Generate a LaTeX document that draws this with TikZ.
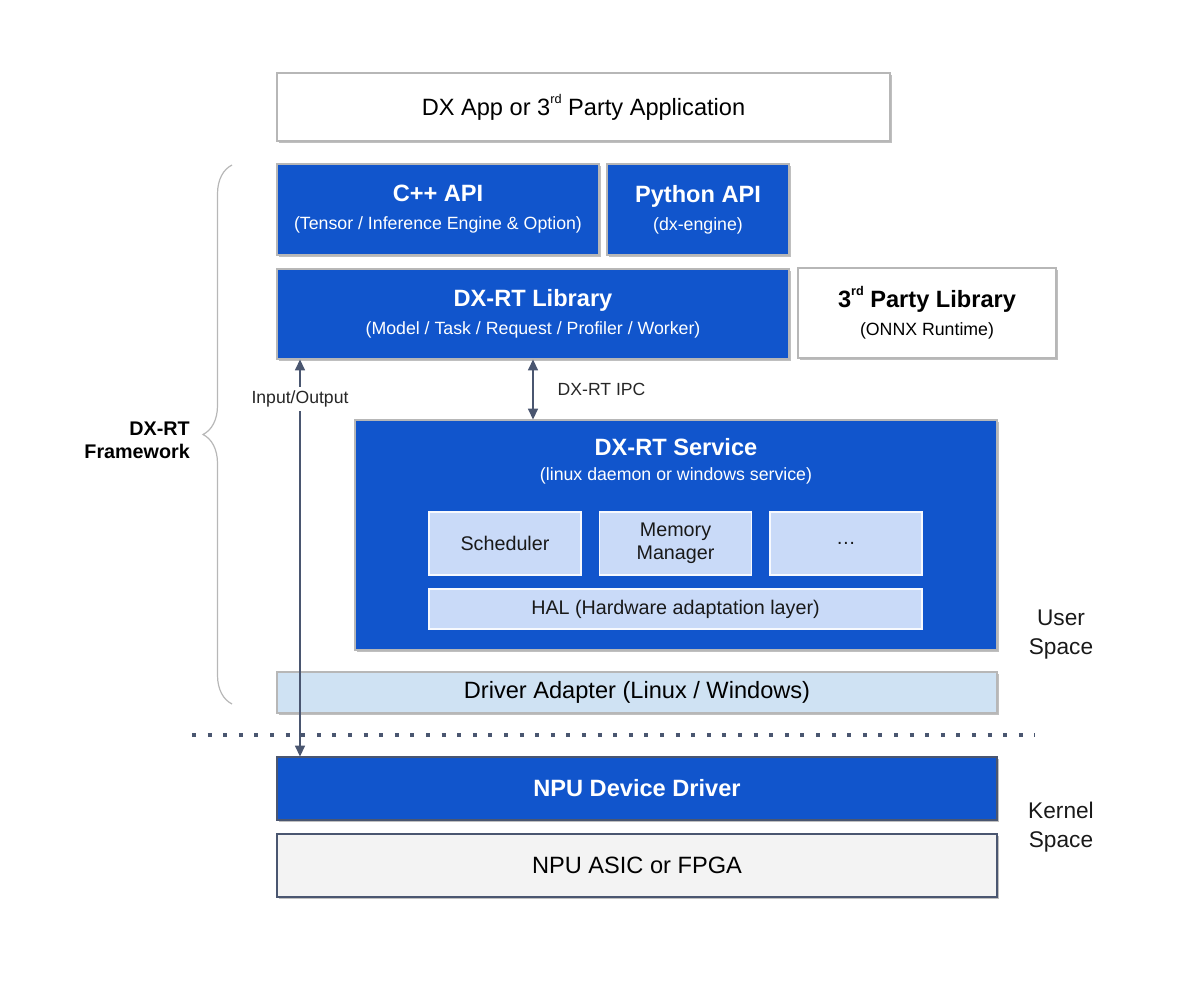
\documentclass[tikz,border=0pt]{standalone}
\usepackage{fontspec}
\setmainfont{Liberation Sans}
\usetikzlibrary{arrows.meta,shadows,decorations.pathreplacing}
\definecolor{dxblue}{HTML}{1155CC}
\definecolor{dxlight}{HTML}{C9DAF8}
\definecolor{dxpale}{HTML}{CFE2F3}
\definecolor{dxgray}{HTML}{F3F3F3}
\definecolor{dxslate}{HTML}{4A5670}
\definecolor{dxedge}{HTML}{B7B7B7}
\newcommand{\bigtxt}{\fontsize{17.7pt}{21pt}\selectfont}
\newcommand{\subtxt}[1]{{\fontsize{13.3pt}{16pt}\selectfont #1}}
\newcommand{\rdsup}{\raisebox{0.5em}{\fontsize{9.5pt}{9.5pt}\selectfont rd}}
\begin{document}
\begin{tikzpicture}
  [x=0.75pt,y=-0.75pt,every node/.style={inner sep=0pt,align=center},
   layerbox/.style={rectangle,draw=dxedge,line width=0.9pt,font=\bigtxt,
     drop shadow={shadow xshift=1.2pt,shadow yshift=-1.8pt,opacity=.5}},
   bluebox/.style={layerbox,fill=dxblue,text=white},
   whitebox/.style={layerbox,fill=white,text=black},
   innerbox/.style={rectangle,draw=white!85!dxlight,line width=0.8pt,fill=dxlight,
     text=black!90,font=\fontsize{14.8pt}{17.5pt}\selectfont}]
  \tikzstyle{link} = [draw=dxslate,line width=1.1pt,{Triangle[length=8pt,width=7.5pt]}-{Triangle[length=8pt,width=7.5pt]}]
  \tikzstyle{linklabel} = [font=\fontsize{13.2pt}{16pt}\selectfont,text=black!85]
  \tikzstyle{side} = [font=\fontsize{17pt}{21.75pt}\selectfont,text=black!90]
  \useasboundingbox (0,0) rectangle (1200,981);

  \node[whitebox,minimum width=459.75pt,minimum height=51pt] (app) at (583.5,107)
    {DX App or 3\rdsup\ Party Application};
  \node[bluebox,minimum width=241.5pt,minimum height=68.25pt] (cpp) at (438,209.5)
    {\textbf{C++ API}\\\subtxt{(Tensor / Inference Engine \& Option)}};
  \node[bluebox,minimum width=136.5pt,minimum height=68.25pt] (py) at (698,209.5)
    {\textbf{Python API}\\\subtxt{(dx-engine)}};
  \node[bluebox,minimum width=384pt,minimum height=67.5pt] (lib) at (533,314)
    {\textbf{DX-RT Library}\\\subtxt{(Model / Task / Request / Profiler / Worker)}};
  \node[whitebox,minimum width=193.5pt,minimum height=67.5pt] (third) at (927,313)
    {\textbf{3\rdsup\ Party Library}\\\subtxt{(ONNX Runtime)}};

  \node[bluebox,minimum width=481.5pt,minimum height=172.5pt] (svc) at (676,535) {};
  \node[text=white,font=\bigtxt] (svctitle) at (676,461)
    {\textbf{DX-RT Service}\\[-2.25pt]\subtxt{(linux daemon or windows service)}};
  \foreach \name/\x/\txt in {sched/505/Scheduler,mem/675.5/{Memory\\Manager},more/846/…}
    \node[innerbox,minimum width=114pt,minimum height=47.25pt] (\name) at (\x,543.5) {\txt};
  \node[innerbox,minimum width=369.75pt,minimum height=30pt] (hal) at (675.5,609)
    {HAL (Hardware adaptation layer)};

  \node[layerbox,fill=dxpale,minimum width=540pt,minimum height=30.75pt] (adapter) at (637,692.5)
    {Driver Adapter (Linux / Windows)};
  \node[bluebox,draw=dxslate,minimum width=540pt,minimum height=47.25pt] (npu) at (637,788.5)
    {\textbf{NPU Device Driver}};
  \node[layerbox,fill=dxgray,draw=dxslate,minimum width=540pt,minimum height=47.25pt] (asic) at (637,865.5)
    {NPU ASIC or FPGA};

  \coordinate (bt) at (232,165);
  \coordinate (bb) at (232,704);
  \draw[draw=dxedge,line width=0.9pt,decorate,decoration={brace,amplitude=21.75pt}] (bb) -- (bt);
  \node[anchor=east,align=right,font=\fontsize{14.8pt}{17.25pt}\selectfont\bfseries] (fw) at (190,440)
    {DX-RT\\Framework};

  \coordinate (kl) at (192,735);
  \coordinate (kr) at (1035,735);
  \draw[draw=dxslate,line width=3pt,dash pattern=on 3pt off 8.7pt] (kl) -- (kr);
  \node[side] (user) at (1061,635) {User\\Space};
  \node[side] (kernel) at (1061,827) {Kernel\\Space};

  \coordinate (iox) at (300,0);
  \draw[link] (npu.north -| iox) -- node[pos=0.9,fill=white,inner sep=3pt,linklabel] (io) {Input/Output} (lib.south -| iox);
  \draw[link] (lib.south) -- node[right=18pt,linklabel] (ipc) {DX-RT IPC} (lib.south |- svc.north);
\end{tikzpicture}
\end{document}
